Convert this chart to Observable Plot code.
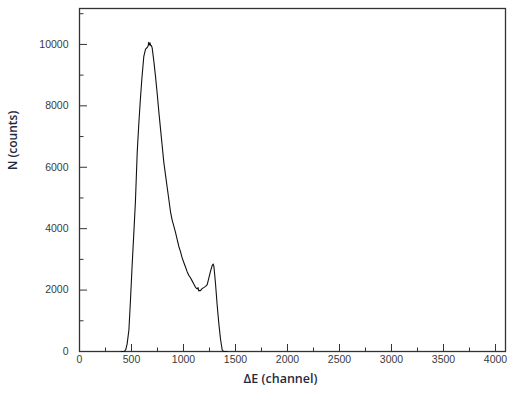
<!DOCTYPE html>
<html>
<head>
<meta charset="utf-8">
<script src="https://cdn.jsdelivr.net/npm/d3@7"></script>
<script src="https://cdn.jsdelivr.net/npm/@observablehq/plot@0.6"></script>
<style>
  html, body { margin: 0; padding: 0; background: #fff; }
</style>
</head>
<body>
<div id="chart"></div>
<script>
// Spectrum: channel (ΔE) vs counts N
const channels = [400, 430, 445, 458, 475, 490, 506, 522, 538, 555, 570, 585, 600, 618, 635, 651, 660, 665, 672, 678, 685, 692, 699, 715, 731, 747, 763, 779, 795, 811, 827, 843, 859, 875, 891, 907, 923, 939, 955, 971, 987, 1003, 1019, 1035, 1051, 1067, 1083, 1099, 1115, 1131, 1140, 1147, 1155, 1163, 1179, 1195, 1212, 1228, 1244, 1260, 1276, 1285, 1292, 1300, 1308, 1324, 1340, 1356, 1372, 1385, 1420];
const counts   = [0, 0, 60, 250, 700, 1660, 2800, 3830, 4900, 6500, 7400, 8200, 8900, 9600, 9850, 9900, 9950, 10070, 9980, 10050, 9960, 9960, 9880, 9450, 8950, 8400, 7800, 7250, 6700, 6150, 5750, 5350, 4950, 4550, 4280, 4080, 3880, 3650, 3420, 3250, 3050, 2900, 2750, 2600, 2480, 2400, 2300, 2200, 2090, 2040, 2080, 1970, 1990, 1980, 2050, 2080, 2120, 2180, 2400, 2620, 2800, 2850, 2780, 2500, 2200, 1500, 900, 400, 50, 0, 0];
const xMajorTicks = [0, 500, 1000, 1500, 2000, 2500, 3000, 3500, 4000];
const xMinorTicks = [250, 750, 1250, 1750, 2250, 2750, 3250, 3750];
const yMajorTicks = [0, 2000, 4000, 6000, 8000, 10000];
const yMinorTicks = [1000, 3000, 5000, 7000, 9000, 11000];
const xLabel = "ΔE (channel)";
const yLabel = "N (counts)";

const data = channels.map((c, i) => ({channel: c, n: counts[i]}));

const tickFont = "Liberation Sans, Arial, sans-serif";
const labelFont = "'Open Sans', sans-serif";
const fmt = d => String(d);

const chart = Plot.plot({
  width: 510,
  height: 396,
  marginLeft: 79,
  marginRight: 5,
  marginTop: 8,
  marginBottom: 45,
  style: {background: "#fff", fontFamily: tickFont},
  x: {domain: [0, 4096]},
  y: {domain: [0, 11170]},
  marks: [
    Plot.frame({stroke: "#333", strokeWidth: 1.3}),
    Plot.axisX(xMajorTicks, {tickSize: -7, text: null, stroke: "#333", label: null}),
    Plot.axisX(xMinorTicks, {tickSize: -3.5, text: null, stroke: "#333", label: null}),
    Plot.axisX(xMajorTicks, {tickSize: 0, tickPadding: 4, tickFormat: fmt, fontSize: 10.5, fill: "#3a3a3a", label: null, letterSpacing: "0.4px"}),
    Plot.axisY(yMajorTicks, {tickSize: -8, text: null, stroke: "#333", label: null}),
    Plot.axisY(yMinorTicks, {tickSize: -4.5, text: null, stroke: "#333", label: null}),
    Plot.axisY(yMajorTicks, {tickSize: 0, tickPadding: 11, tickFormat: fmt, fontSize: 10.5, fill: "#3a3a3a", label: null, letterSpacing: "0.8px"}),
    Plot.line(data, {x: "channel", y: "n", stroke: "#111", strokeWidth: 1.1}),
    Plot.text([xLabel], {frameAnchor: "bottom", dy: 31, dx: -12, fontSize: 12.5, fontWeight: 600, fill: "#1f2a40", fontFamily: labelFont}),
    Plot.text([yLabel], {frameAnchor: "left", rotate: -90, dx: -66, dy: -10, fontSize: 12, fontWeight: 600, fill: "#1f2a40", fontFamily: labelFont})
  ]
});

document.getElementById("chart").appendChild(chart);
</script>
</body>
</html>
